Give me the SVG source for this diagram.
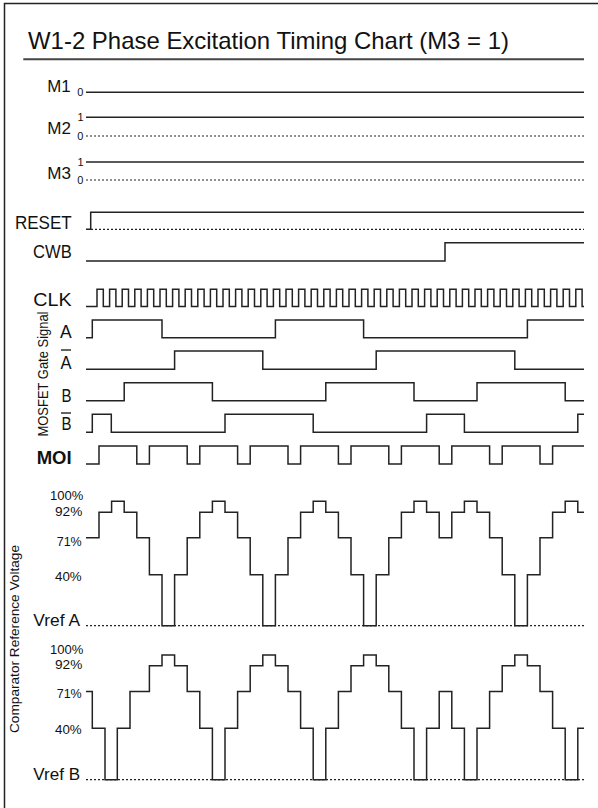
<svg xmlns="http://www.w3.org/2000/svg" width="598" height="808" viewBox="0 0 598 808">
<style>
.w{fill:none;stroke:#222;stroke-width:1.5}
.d{fill:none;stroke:#222;stroke-width:1.2;stroke-dasharray:2 2}
text{font-family:"Liberation Sans Narrow","Liberation Sans",Arial,sans-serif;fill:#111}
.lb{font-size:18.5px}
.m{font-size:16px}
.s{font-size:11px}
.p{font-size:13.5px}
</style>
<rect width="598" height="808" fill="#fff"/>
<g id="frame"><path d="M4.5,808V3.5H598" fill="none" stroke="#222" stroke-width="1.5"/></g>
<g id="title">
<text x="28" y="49" style="font-family:'Liberation Sans',Arial,sans-serif;font-size:24px" textLength="481" lengthAdjust="spacingAndGlyphs">W1-2 Phase Excitation Timing Chart (M3 = 1)</text>
<path d="M23.3,59.3H584" stroke="#444" stroke-width="2" fill="none"/>
</g>
<g id="M1">
<text class="m" x="47.3" y="91.7" textLength="23.4" lengthAdjust="spacingAndGlyphs">M1</text>
<text class="s" x="77.3" y="95.7">0</text>
<path class="w" d="M86,92.3H584"/>
</g>
<g id="M2">
<text class="m" x="47.3" y="134" textLength="23.7" lengthAdjust="spacingAndGlyphs">M2</text>
<text class="s" x="77.5" y="120.7">1</text>
<text class="s" x="77.3" y="140">0</text>
<path class="w" d="M86,117.3H584"/>
<path class="d" d="M86,136H584"/>
</g>
<g id="M3">
<text class="m" x="47.3" y="179.3" textLength="23.7" lengthAdjust="spacingAndGlyphs">M3</text>
<text class="s" x="77.5" y="165.7">1</text>
<text class="s" x="77.3" y="184.3">0</text>
<path class="w" d="M86,162H584"/>
<path class="d" d="M86,180H584"/>
</g>
<g id="RESET">
<text class="lb" x="15" y="229.3" textLength="56.7" lengthAdjust="spacingAndGlyphs">RESET</text>
<path class="d" d="M91,229.3H584"/>
<path class="w" d="M86,229.3H90.7V212.3H584"/>
</g>
<g id="CWB">
<text class="lb" x="33" y="258.3" textLength="38.7" lengthAdjust="spacingAndGlyphs">CWB</text>
<path class="w" d="M86,261H445V242.7H584"/>
</g>
<g id="CLK">
<text class="lb" x="33.3" y="306" textLength="38.3" lengthAdjust="spacingAndGlyphs">CLK</text>
<path class="w" d="M86,306.5H97 v-17.2h6.3v17.2h6.3 v-17.2h6.3v17.2h6.3 v-17.2h6.3v17.2h6.3 v-17.2h6.3v17.2h6.3 v-17.2h6.3v17.2h6.3 v-17.2h6.3v17.2h6.3 v-17.2h6.3v17.2h6.3 v-17.2h6.3v17.2h6.3 v-17.2h6.3v17.2h6.3 v-17.2h6.3v17.2h6.3 v-17.2h6.3v17.2h6.3 v-17.2h6.3v17.2h6.3 v-17.2h6.3v17.2h6.3 v-17.2h6.3v17.2h6.3 v-17.2h6.3v17.2h6.3 v-17.2h6.3v17.2h6.3 v-17.2h6.3v17.2h6.3 v-17.2h6.3v17.2h6.3 v-17.2h6.3v17.2h6.3 v-17.2h6.3v17.2h6.3 v-17.2h6.3v17.2h6.3 v-17.2h6.3v17.2h6.3 v-17.2h6.3v17.2h6.3 v-17.2h6.3v17.2h6.3 v-17.2h6.3v17.2h6.3 v-17.2h6.3v17.2h6.3 v-17.2h6.3v17.2h6.3 v-17.2h6.3v17.2h6.3 v-17.2h6.3v17.2h6.3 v-17.2h6.3v17.2h6.3 v-17.2h6.3v17.2h6.3 v-17.2h6.3v17.2h6.3 v-17.2h6.3v17.2h6.3 v-17.2h6.3v17.2h6.3 v-17.2h6.3v17.2h6.3 v-17.2h6.3v17.2h6.3 v-17.2h6.3v17.2h6.3 v-17.2h6.3v17.2h6.3 v-17.2h6.3v17.2H584"/>
</g>
<g id="mosfet-label">
<text transform="translate(48,374) rotate(-90)" text-anchor="middle" style="font-size:15px" textLength="125" lengthAdjust="spacingAndGlyphs">MOSFET Gate Signal</text>
</g>
<g id="A">
<text class="lb" x="60" y="337.7" textLength="11.7" lengthAdjust="spacingAndGlyphs">A</text>
<path class="w" d="M86,337.7H92.3V320H162V337.7H275.4V320H363.6V337.7H527.4V320H584"/>
</g>
<g id="A-bar">
<text class="lb" x="60.5" y="369" textLength="11" lengthAdjust="spacingAndGlyphs">A</text>
<path d="M61,350H71" stroke="#111" stroke-width="1.3"/>
<path class="w" d="M86,369.3H174.6V351H262.8V369.3H376.2V351H514.8V369.3H584"/>
</g>
<g id="B">
<text class="lb" x="61.5" y="401.7" textLength="10" lengthAdjust="spacingAndGlyphs">B</text>
<path class="w" d="M86,400.7H124.2V382.7H212.4V400.7H325.8V382.7H414V400.7H477V382.7H565.2V400.7H584"/>
</g>
<g id="B-bar">
<text class="lb" x="61.5" y="430" textLength="10" lengthAdjust="spacingAndGlyphs">B</text>
<path d="M61,413H71" stroke="#111" stroke-width="1.3"/>
<path class="w" d="M86,432.3H92.3V414.3H111.3V432.3H225V414.3H313.2V432.3H426.6V414.3H464.4V432.3H577.8V414.3H584"/>
</g>
<g id="MOI">
<text class="lb" x="36.7" y="464" style="font-weight:bold" textLength="35" lengthAdjust="spacingAndGlyphs">MOI</text>
<path class="w" d="M86,464H99V446H136.8V464H149.4V446H187.2V464H199.8V446H237.6V464H250.2V446H288V464H300.6V446H338.4V464H351V446H388.8V464H401.4V446H439.2V464H451.8V446H489.6V464H502.2V446H540V464H552.6V446H584"/>
</g>
<g id="comparator-label">
<text transform="translate(19,639) rotate(-90)" text-anchor="middle" style="font-size:13.5px" textLength="188" lengthAdjust="spacingAndGlyphs">Comparator Reference Voltage</text>
</g>
<g id="VrefA">
<text class="p" x="50" y="500.3" textLength="33.3" lengthAdjust="spacingAndGlyphs">100%</text>
<text class="p" x="55" y="516.3" textLength="27.3" lengthAdjust="spacingAndGlyphs">92%</text>
<text class="p" x="56.7" y="545.5" textLength="25" lengthAdjust="spacingAndGlyphs">71%</text>
<text class="p" x="55" y="580.7" textLength="26.7" lengthAdjust="spacingAndGlyphs">40%</text>
<text style="font-size:17px" x="33.3" y="625.7" textLength="46.7" lengthAdjust="spacingAndGlyphs">Vref A</text>
<path class="d" d="M86,625.7H584"/>
<path class="w" d="M86,537.7H99V512.3H111.6V501.3H124.2V512.3H136.8V537.7H149.4V574.7H162V625.7H174.6V574.7H187.2V537.7H199.8V512.3H212.4V501.3H225V512.3H237.6V537.7H250.2V574.7H262.8V625.7H275.4V574.7H288V537.7H300.6V512.3H313.2V501.3H325.8V512.3H338.4V537.7H351V574.7H363.6V625.7H376.2V574.7H388.8V537.7H401.4V512.3H414V501.3H426.6V512.3H439.2V537.7H451.8V512.3H464.4V501.3H477V512.3H489.6V537.7H502.2V574.7H514.8V625.7H527.4V574.7H540V537.7H552.6V512.3H565.2V501.3H577.8V512.3H584"/>
</g>
<g id="VrefB">
<text class="p" x="50" y="653.5" textLength="33.3" lengthAdjust="spacingAndGlyphs">100%</text>
<text class="p" x="55" y="668.5" textLength="27.3" lengthAdjust="spacingAndGlyphs">92%</text>
<text class="p" x="56.7" y="698.3" textLength="25" lengthAdjust="spacingAndGlyphs">71%</text>
<text class="p" x="55" y="734" textLength="26.7" lengthAdjust="spacingAndGlyphs">40%</text>
<text style="font-size:17px" x="33.3" y="780" textLength="46.7" lengthAdjust="spacingAndGlyphs">Vref B</text>
<path class="d" d="M86,779.7H584"/>
<path class="w" d="M86,691.5H92.3V728.3H105V779.7H117.3V728.3H130V691.5H149.4V665.7H162V655H174.6V665.7H187.2V691.5H199.8V728.3H212.4V779.7H225V728.3H237.6V691.5H250.2V665.7H262.8V655H275.4V665.7H288V691.5H300.6V728.3H313.2V779.7H325.8V728.3H338.4V691.5H351V665.7H363.6V655H376.2V665.7H388.8V691.5H401.4V728.3H414V779.7H426.6V728.3H439.2V691.5H451.8V728.3H464.4V779.7H477V728.3H489.6V691.5H502.2V665.7H514.8V655H527.4V665.7H540V691.5H552.6V728.3H565.2V779.7H577.8V728.3H584"/>
</g>
</svg>
